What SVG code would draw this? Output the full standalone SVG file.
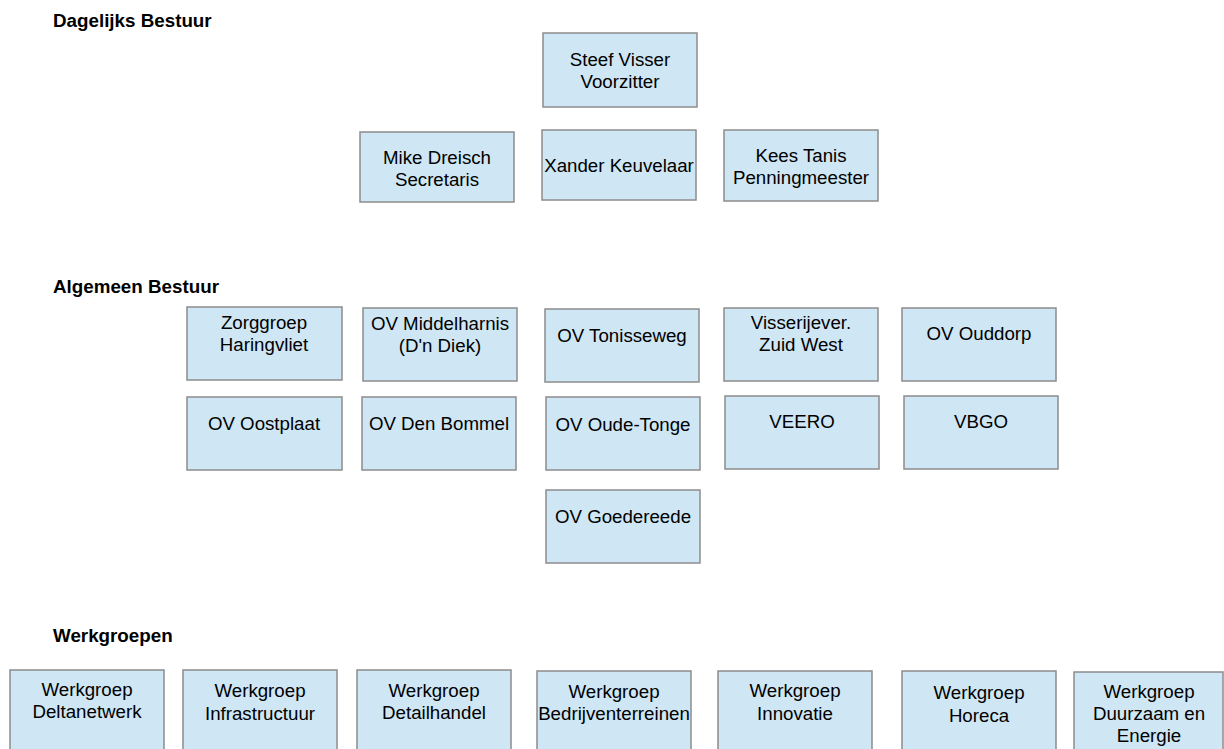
<svg xmlns="http://www.w3.org/2000/svg" width="1224" height="749" viewBox="0 0 1224 749">
<style>
.b{fill:#cfe6f4;stroke:#8c8c8c;stroke-width:1.5}
.t{font-family:"Liberation Sans",Arial,sans-serif;font-size:18.7px;fill:#000;text-anchor:middle}
.h{font-family:"Liberation Sans",Arial,sans-serif;font-size:18.8px;font-weight:bold;fill:#000}
</style>
<rect width="1224" height="749" fill="#fff"/>
<text class="h" x="53" y="27">Dagelijks Bestuur</text>
<text class="h" x="53" y="293">Algemeen Bestuur</text>
<text class="h" x="53" y="642">Werkgroepen</text>
<g id="steef"><rect class="b" x="543" y="33" width="154" height="74"/><text class="t" x="620" y="66">Steef Visser</text><text class="t" x="620" y="88">Voorzitter</text></g>
<g id="mike"><rect class="b" x="360" y="132" width="154" height="70"/><text class="t" x="437" y="164">Mike Dreisch</text><text class="t" x="437" y="186">Secretaris</text></g>
<g id="xander"><rect class="b" x="542" y="130" width="154" height="70"/><text class="t" x="619" y="172">Xander Keuvelaar</text></g>
<g id="kees"><rect class="b" x="724" y="130" width="154" height="71"/><text class="t" x="801" y="162">Kees Tanis</text><text class="t" x="801" y="184">Penningmeester</text></g>
<g id="zorggroep"><rect class="b" x="187" y="307" width="155" height="73"/><text class="t" x="264" y="329">Zorggroep</text><text class="t" x="264" y="351">Haringvliet</text></g>
<g id="middelharnis"><rect class="b" x="363" y="308" width="154" height="73"/><text class="t" x="440" y="330">OV Middelharnis</text><text class="t" x="440" y="352">(D'n Diek)</text></g>
<g id="tonisseweg"><rect class="b" x="545" y="309" width="154" height="73"/><text class="t" x="622" y="342">OV Tonisseweg</text></g>
<g id="visserij"><rect class="b" x="724" y="308" width="154" height="73"/><text class="t" x="801" y="329">Visserijever.</text><text class="t" x="801" y="351">Zuid West</text></g>
<g id="ouddorp"><rect class="b" x="902" y="308" width="154" height="73"/><text class="t" x="979" y="340">OV Ouddorp</text></g>
<g id="oostplaat"><rect class="b" x="187" y="397" width="155" height="73"/><text class="t" x="264" y="430">OV Oostplaat</text></g>
<g id="denbommel"><rect class="b" x="362" y="397" width="154" height="73"/><text class="t" x="439" y="430">OV Den Bommel</text></g>
<g id="oudetonge"><rect class="b" x="546" y="397" width="154" height="73"/><text class="t" x="623" y="431">OV Oude-Tonge</text></g>
<g id="veero"><rect class="b" x="725" y="396" width="154" height="73"/><text class="t" x="802" y="428">VEERO</text></g>
<g id="vbgo"><rect class="b" x="904" y="396" width="154" height="73"/><text class="t" x="981" y="428">VBGO</text></g>
<g id="goedereede"><rect class="b" x="546" y="490" width="154" height="73"/><text class="t" x="623" y="523">OV Goedereede</text></g>
<g id="deltanetwerk"><rect class="b" x="10" y="670" width="154" height="100"/><text class="t" x="87" y="696">Werkgroep</text><text class="t" x="87" y="718">Deltanetwerk</text></g>
<g id="infrastructuur"><rect class="b" x="183" y="670" width="154" height="100"/><text class="t" x="260" y="697">Werkgroep</text><text class="t" x="260" y="720">Infrastructuur</text></g>
<g id="detailhandel"><rect class="b" x="357" y="670" width="154" height="100"/><text class="t" x="434" y="697">Werkgroep</text><text class="t" x="434" y="719">Detailhandel</text></g>
<g id="bedrijventerreinen"><rect class="b" x="537" y="671" width="154" height="100"/><text class="t" x="614" y="698">Werkgroep</text><text class="t" x="614" y="720">Bedrijventerreinen</text></g>
<g id="innovatie"><rect class="b" x="718" y="671" width="154" height="100"/><text class="t" x="795" y="697">Werkgroep</text><text class="t" x="795" y="720">Innovatie</text></g>
<g id="horeca"><rect class="b" x="902" y="671" width="154" height="100"/><text class="t" x="979" y="699">Werkgroep</text><text class="t" x="979" y="722">Horeca</text></g>
<g id="duurzaam"><rect class="b" x="1074" y="672" width="149" height="100"/><text class="t" x="1149" y="698">Werkgroep</text><text class="t" x="1149" y="720">Duurzaam en</text><text class="t" x="1149" y="742">Energie</text></g>
<g id="connectors"></g>
</svg>
